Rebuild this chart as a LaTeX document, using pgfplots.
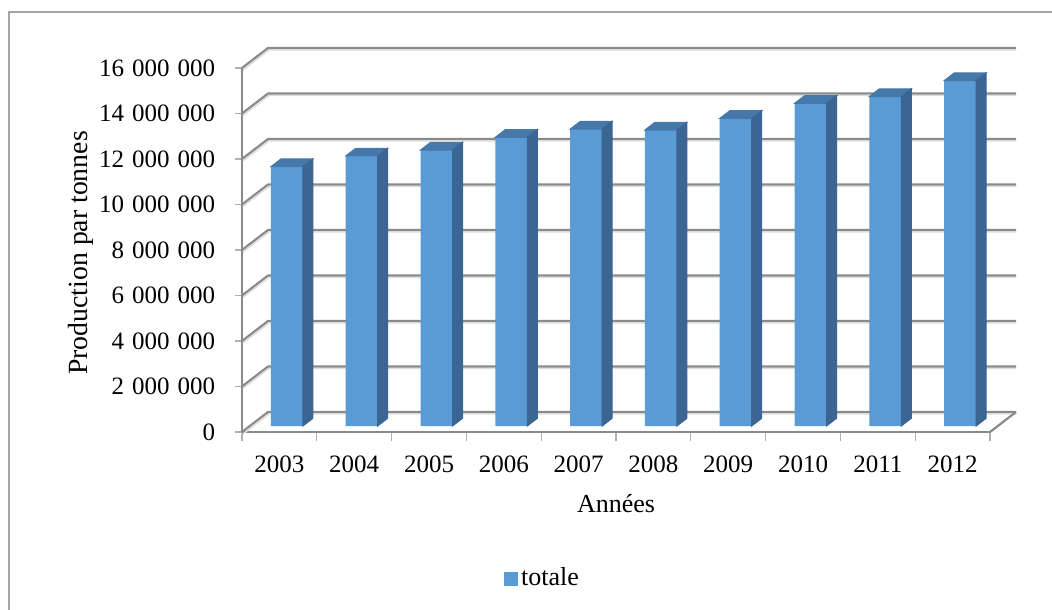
\documentclass[border=0pt]{standalone}
\usepackage{fontspec}
\setmainfont{Liberation Serif}
\usepackage{pgfplots}
\pgfplotsset{compat=1.18}
\usepackage{pgfplotstable}

% one drawing unit
\newdimen\px \px=0.4pt

\definecolor{barfront}{HTML}{5B9BD5}
\definecolor{barside}{HTML}{3B6592}
\definecolor{bartop}{HTML}{4678AA}
\definecolor{wallline}{HTML}{8A8A8A}
\definecolor{wallshade}{HTML}{DDDDDD}
\definecolor{tickgray}{HTML}{B0B0B0}
\definecolor{framegray}{HTML}{A6A6A6}

% annual production (tonnes)
\pgfplotstableread{
idx year prod
0 2003 11400000
1 2004 11870000
2 2005 12130000
3 2006 12690000
4 2007 13050000
5 2008 13010000
6 2009 13520000
7 2010 14180000
8 2011 14480000
9 2012 15180000
}\prodtable

\newcommand\ts{\hspace{0.32em}}
\def\axH{364}% plot height in units

\begin{document}
\begin{tikzpicture}
\clip (0,0) rectangle (1052\px,609\px);
% chart frame
\draw[framegray, line width=1.5\px] (9\px,597\px) rectangle (1080\px,-20\px);

\begin{axis}[
  at={(242\px,177\px)}, anchor=south west,
  scale only axis, width=748\px, height=364\px,
  xmin=0, xmax=10, ymin=0, ymax=16000000,
  clip=false, scaled y ticks=false,
  axis x line=bottom, axis y line=left,
  axis line style={-, draw=wallline, line width=2.2\px},
  tick align=outside,
  major tick length=7\px, minor tick length=9\px,
  xtick={0.5,1.5,2.5,3.5,4.5,5.5,6.5,7.5,8.5,9.5},
  xticklabels={2003,2004,2005,2006,2007,2008,2009,2010,2011,2012},
  minor xtick={0,1,2,3,4,5,6,7,8,9,10},
  major x tick style={draw=none},
  minor x tick style={draw=tickgray, line width=1.2\px},
  ytick={0,2000000,4000000,6000000,8000000,10000000,12000000,14000000,16000000},
  yticklabels={0,2\ts000\ts000,4\ts000\ts000,6\ts000\ts000,8\ts000\ts000,10\ts000\ts000,12\ts000\ts000,14\ts000\ts000,16\ts000\ts000},
  y tick style={draw=tickgray, line width=1.2\px},
  xticklabel shift=8\px, yticklabel shift=11\px,
  tick label style={font=\fontsize{10}{12}\selectfont},
  xlabel={Années}, ylabel={Production par tonnes},
  every axis x label/.style={at={(rel axis cs:0.5,-0.198)}, anchor=center, font=\fontsize{10.4}{12}\selectfont},
  every axis y label/.style={at={(rel axis cs:-0.215,0.492)}, rotate=90, anchor=center, font=\fontsize{11.1}{13}\selectfont},
  legend style={at={(rel axis cs:0.407,-0.401)}, anchor=center, draw=none, fill=none,
    font=\fontsize{10.4}{12}\selectfont, inner sep=0pt, column sep=7\px,
    nodes={inner sep=0pt}},
  legend image code/.code={\fill[barfront] (-10\px,-14\px) rectangle (4\px,0\px);},
]
% back wall gridlines, left wall diagonals and floor edge
\pgfplotsinvokeforeach{0,2,4,6,8,10,12,14,16}{
  \draw[wallshade, line width=1.4\px]
    ([shift={(1\px,-2\px)}]axis cs:0,#1000000) -- ([shift={(27\px,18\px)}]axis cs:0,#1000000)
    -- ([shift={(26\px,18\px)}]axis cs:10,#1000000);
  \draw[wallline, line width=2.2\px, line join=round]
    (axis cs:0,#1000000) -- ([shift={(26\px,20\px)}]axis cs:0,#1000000)
    -- ([shift={(26\px,20\px)}]axis cs:10,#1000000);
}
\draw[wallline, line width=2.2\px] (axis cs:10,0) -- ([shift={(26\px,20\px)}]axis cs:10,0);

% bar front faces, set back from the front edge of the floor
\addplot[ybar, bar width=32\px, bar shift=7.5\px, fill=barfront, draw=none,
  transform canvas={yshift=6\px}]
  table[x expr=\thisrow{idx}+0.5, y=prod] {\prodtable};
\addlegendentry{totale}

% bar top and side faces (offsets in drawing units from the data point)
\addplot[forget plot, scatter, only marks, mark=*, mark size=0pt,
  mark options={draw=none, fill=none},
  visualization depends on={rawy \as \prodval},
  scatter/@pre marker code/.code={%
    \pgfkeys{/pgf/fpu=true,/pgf/fpu/output format=fixed}%
    \pgfmathsetmacro\barh{\prodval/16000000*\axH}%
    \pgfkeys{/pgf/fpu=false}%
    \pgfmathsetmacro\barb{6-\barh}%
    \fill[bartop] (-8.5\px,6\px) -- (23.5\px,6\px) -- (33.5\px,13.7\px) -- (1.5\px,13.7\px) -- cycle;
    \fill[barside] (23.5\px,6\px) -- (33.5\px,13.7\px) -- (33.5\px,\barb\px+7.7\px) -- (23.5\px,\barb\px) -- cycle;
  },
  scatter/@post marker code/.code={},
] table[x expr=\thisrow{idx}+0.5, y=prod] {\prodtable};
\end{axis}
\end{tikzpicture}
\end{document}
